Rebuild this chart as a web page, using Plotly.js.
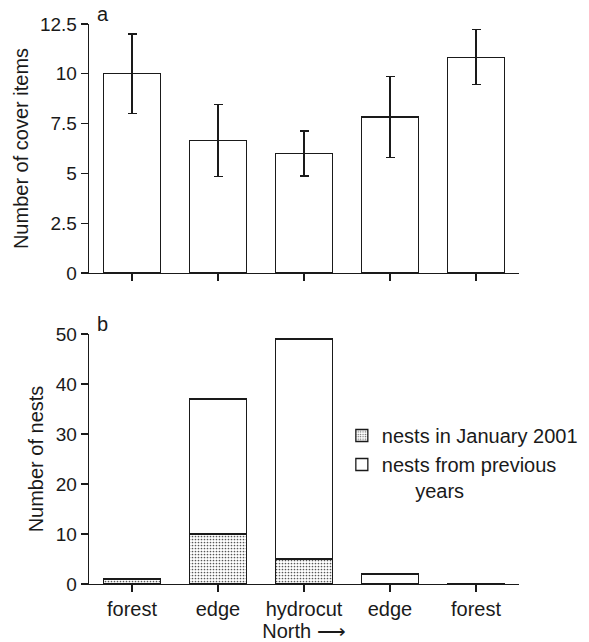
<!DOCTYPE html>
<html>
<head>
<meta charset="utf-8">
<script src="https://cdn.plot.ly/plotly-3.0.1.min.js"></script>
<style>html,body{margin:0;padding:0;background:#fff;}#chart{width:589px;height:642px;}</style>
</head>
<body>
<div id="chart"></div>
<script>
// Data
const categories = ["forest", "edge", "hydrocut", "edge", "forest"];
const positions = [0, 1, 2, 3, 4];
const coverItems = [10.0, 6.65, 6.0, 7.83, 10.83];
const coverErr = [2.0, 1.8, 1.13, 2.03, 1.38];
const nestsJan2001 = [1, 10, 5, 0, 0];
const nestsPrevious = [0, 27, 44, 2, 0];
const coverTicks = [0, 2.5, 5, 7.5, 10, 12.5];
const coverTickText = ["0", "2.5", "5", "7.5", "10", "12.5"];
const nestTicks = [0, 10, 20, 30, 40, 50];

const ink = '#1a1a1a';
const fontFam = 'Liberation Sans, Arial, Helvetica, sans-serif';
const fs = 20;

const traces = [
  {
    type: 'bar', x: positions, y: coverItems, xaxis: 'x', yaxis: 'y',
    width: 0.67, showlegend: false,
    marker: {color: '#ffffff', line: {color: ink, width: 1.3}},
    error_y: {type: 'data', array: coverErr, visible: true, color: ink, thickness: 1.3, width: 4.5}
  },
  {
    type: 'bar', x: positions, y: nestsJan2001, xaxis: 'x2', yaxis: 'y2',
    width: 0.67, name: 'nests in January 2001',
    marker: {color: '#ffffff', line: {color: ink, width: 1.3},
      pattern: {shape: '.', fgcolor: '#555', bgcolor: '#ffffff', size: 3, solidity: 0.25}}
  },
  {
    type: 'bar', x: positions, y: nestsPrevious, xaxis: 'x2', yaxis: 'y2',
    width: 0.67, name: 'nests from previous<br>      years',
    marker: {color: '#ffffff', line: {color: ink, width: 1.3}}
  }
];

const axisCommon = {
  showline: true, linecolor: ink, linewidth: 1.3, zeroline: false, showgrid: false,
  ticks: 'outside', ticklen: 7, tickwidth: 1.3, tickcolor: ink, automargin: false,
  tickfont: {family: fontFam, size: fs, color: ink}
};

const layout = {
  width: 589, height: 642,
  margin: {l: 89, r: 70, t: 24, b: 58, autoexpand: false},
  paper_bgcolor: '#ffffff', plot_bgcolor: '#ffffff',
  font: {family: fontFam, size: fs, color: ink},
  barmode: 'stack',
  xaxis: Object.assign({}, axisCommon, {
    domain: [0, 1], anchor: 'y', range: [-0.5, 4.5],
    tickvals: positions, showticklabels: false
  }),
  yaxis: Object.assign({}, axisCommon, {
    domain: [0.5554, 1], anchor: 'x', range: [0, 12.5],
    tickvals: coverTicks, ticktext: coverTickText,
    tickfont: {family: fontFam, size: 19, color: ink},
    title: {text: 'Number of cover items', font: {family: fontFam, size: fs, color: ink}, standoff: 6}
  }),
  xaxis2: Object.assign({}, axisCommon, {
    domain: [0, 1], anchor: 'y2', range: [-0.5, 4.5],
    tickvals: positions, ticktext: categories,
    title: {text: 'North \u27F6', font: {family: fontFam, size: fs, color: ink}, standoff: 2}
  }),
  yaxis2: Object.assign({}, axisCommon, {
    domain: [0, 0.4464], anchor: 'x2', range: [0, 50],
    tickvals: nestTicks,
    tickfont: {family: fontFam, size: 19, color: ink},
    title: {text: 'Number of nests', font: {family: fontFam, size: fs, color: ink}, standoff: 6}
  }),
  legend: {
    x: 0.588, y: 0.30, xanchor: 'left', yanchor: 'top',
    traceorder: 'normal', valign: 'top',
    font: {family: fontFam, size: fs, color: ink},
    bgcolor: 'rgba(0,0,0,0)', itemwidth: 30, tracegroupgap: 4
  },
  annotations: [
    {text: 'a', xref: 'paper', yref: 'paper', x: 0.015, y: 1.018, xanchor: 'left', yanchor: 'middle',
     showarrow: false, font: {family: fontFam, size: fs, color: ink}},
    {text: 'b', xref: 'paper', yref: 'paper', x: 0.015, y: 0.465, xanchor: 'left', yanchor: 'middle',
     showarrow: false, font: {family: fontFam, size: fs, color: ink}}
  ]
};

Plotly.newPlot('chart', traces, layout, {displayModeBar: false, staticPlot: true});
</script>
</body>
</html>
